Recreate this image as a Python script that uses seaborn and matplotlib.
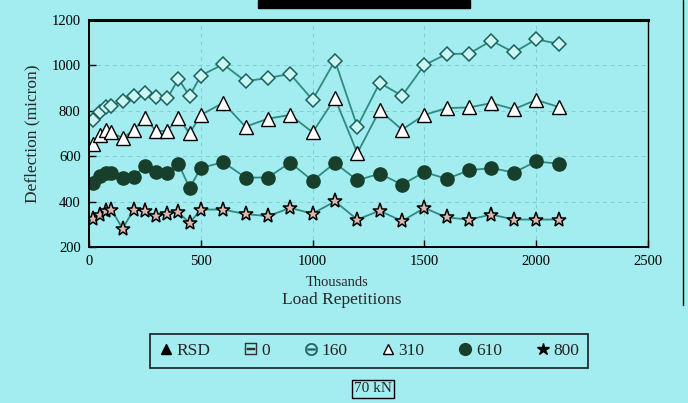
import seaborn as sns
import matplotlib.pyplot as plt
import matplotlib.patches as mpatches
from matplotlib.lines import Line2D
import numpy as np
import pandas as pd


# Date (mii de repetitii, deflexie in microni)

reps = [20, 50, 75, 100, 150, 200, 250, 300, 350, 400, 450, 500,
        600, 700, 800, 900, 1000, 1100, 1200, 1300, 1400, 1500,
        1600, 1700, 1800, 1900, 2000, 2100]

d160 = [760, 795, 815, 820, 845, 865, 880, 860, 855, 940, 865, 955,
        1005, 930, 945, 962, 848, 1021, 730, 923, 866, 1002,
        1050, 1052, 1109, 1057, 1115, 1095]

d310 = [655, 695, 715, 705, 680, 715, 770, 710, 712, 770, 700, 782,
        835, 730, 765, 782, 705, 855, 614, 802, 717, 782,
        812, 815, 834, 807, 848, 817]

d610 = [482, 512, 525, 527, 505, 510, 557, 530, 527, 567, 460, 548,
        574, 506, 506, 572, 492, 570, 494, 523, 475, 530,
        500, 538, 548, 528, 577, 567]

d800 = [322, 343, 358, 365, 281, 364, 358, 338, 347, 352, 306, 365,
        365, 345, 336, 372, 347, 401, 321, 360, 314, 372,
        330, 321, 343, 321, 321, 321]

legend_labels = ["RSD", "0", "160", "310", "610", "800"]
x_ticks = [0, 500, 1000, 1500, 2000, 2500]
y_ticks = [200, 400, 600, 800, 1000, 1200]


# Stil grafic

sns.set_theme(style="ticks")
bg = "#a3edf0"
line_col = "#2f8a80"
plt.rcParams["font.family"] = ["Liberation Serif", "DejaVu Serif"]

fig = plt.figure(figsize=(6.88, 4.03), dpi=100, facecolor=bg)
ax = fig.add_axes([89 / 688, 1 - 247 / 403, (648 - 89) / 688, (247 - 20) / 403])
ax.set_facecolor(bg)

df = pd.DataFrame({"Rep": reps, "160": d160, "310": d310, "610": d610, "800": d800})

stil = {
    "160": dict(marker="D", markersize=7.5, markerfacecolor="#c9f5f2",
                markeredgecolor="#1d5f5a", markeredgewidth=1.1),
    "310": dict(marker="^", markersize=10, markerfacecolor="white",
                markeredgecolor="black", markeredgewidth=1.0),
    "610": dict(marker="o", markersize=9.5, markerfacecolor="#173f2c",
                markeredgecolor="#173f2c", markeredgewidth=1.0),
    "800": dict(marker="*", markersize=11, markerfacecolor="#d9b8b0",
                markeredgecolor="black", markeredgewidth=1.1),
}

for serie, kw in stil.items():
    sns.lineplot(data=df, x="Rep", y=serie, ax=ax, color=line_col,
                 linewidth=1.3, legend=False, **kw)


# Axe

ax.set_xlim(0, 2500)
ax.set_ylim(200, 1200)
ax.set_xticks(x_ticks)
ax.set_yticks(y_ticks)
ax.tick_params(axis="both", direction="in", length=5, width=1, labelsize=10.5,
               colors="black", pad=6)
ax.grid(True, color="#5aaeb0", linestyle=(0, (4, 4)), linewidth=0.7, alpha=0.5)
for s in ["left", "bottom"]:
    ax.spines[s].set_linewidth(1.4)
    ax.spines[s].set_color("black")
ax.spines["top"].set_linewidth(2.2)
ax.spines["top"].set_color("black")
ax.spines["right"].set_linewidth(1.0)
ax.spines["right"].set_color("black")

ax.set_xlabel("")
ax.set_ylabel("Deflection (micron)", fontsize=12.5, labelpad=8)

fig.text(337 / 688, 1 - 283 / 403, "Thousands", ha="center", va="center", fontsize=10.5)
fig.text(342 / 688, 1 - 300 / 403, "Load Repetitions", ha="center", va="center", fontsize=12.5)


# Legenda

handles = [
    Line2D([], [], linestyle="none", marker="^", markersize=7, color="black"),
    Line2D([], [], linestyle="none", marker="$\\boxminus$", markersize=9, color="#333333",
           markeredgewidth=0.3),
    Line2D([], [], linestyle="none", marker="$\\ominus$", markersize=9, color="#1d5f5a",
           markeredgewidth=0.3),
    Line2D([], [], linestyle="none", marker="^", markersize=7, markerfacecolor="white",
           markeredgecolor="black"),
    Line2D([], [], linestyle="none", marker="o", markersize=8.5, color="#173f2c"),
    Line2D([], [], linestyle="none", marker="*", markersize=9, color="black"),
]
leg = fig.legend(handles, legend_labels, loc="center", ncol=6,
                 bbox_to_anchor=(369 / 688, 1 - 351 / 403), fontsize=12.5,
                 frameon=True, fancybox=False, edgecolor="black",
                 handlelength=0.8, handletextpad=0.2, columnspacing=1.95,
                 borderpad=0.5)
leg.get_frame().set_facecolor(bg)
leg.get_frame().set_linewidth(1.3)

fig.text(373 / 688, 1 - 389 / 403, "70 kN", ha="center", va="center", fontsize=11,
         bbox=dict(boxstyle="square,pad=0.15", facecolor=bg, edgecolor="black", linewidth=1))


# Restul cadrului scanat

fig.patches.append(mpatches.Rectangle((258 / 688, 1 - 8 / 403), 212 / 688, 8 / 403,
                                      transform=fig.transFigure, color="black"))
fig.lines.append(Line2D([683 / 688, 683 / 688], [1, 1 - 305 / 403],
                        transform=fig.transFigure, color="black", linewidth=1))

fig.savefig("out.png", dpi=100, facecolor=bg)
